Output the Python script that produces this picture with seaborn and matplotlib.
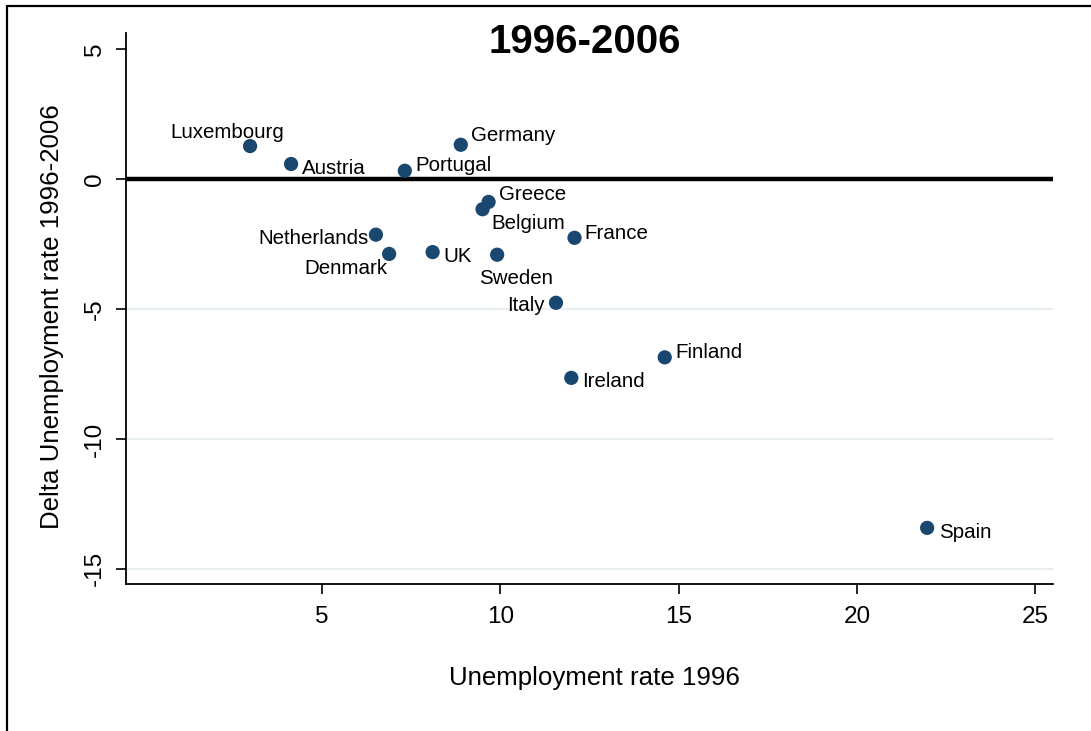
import matplotlib
matplotlib.use("Agg")
import matplotlib.pyplot as plt
from matplotlib.lines import Line2D
import seaborn as sns
import pandas as pd

# Unemployment in 1996 and its change over 1996-2006, by country
countries = ["Luxembourg", "Austria", "Portugal", "Germany", "Greece", "Belgium",
             "Netherlands", "Denmark", "UK", "Sweden", "France", "Italy",
             "Finland", "Ireland", "Spain"]
unemp_1996 = [2.98, 4.13, 7.32, 8.89, 9.67, 9.50, 6.51, 6.88, 8.10, 9.91,
              12.08, 11.56, 14.61, 11.99, 21.97]
delta_unemp = [1.27, 0.58, 0.32, 1.32, -0.88, -1.16, -2.14, -2.88, -2.81, -2.91,
               -2.26, -4.76, -6.86, -7.65, -13.42]

x_ticks = [5, 10, 15, 20, 25]
y_ticks = [5, 0, -5, -10, -15]
grid_levels = [-5, -10, -15]

# Where each marker label sits relative to its marker (pixels, alignment)
label_place = {
    "Luxembourg": (-23, 14, "center"),
    "Austria": (11, -5, "left"),
    "Portugal": (11, 5, "left"),
    "Germany": (10, 9, "left"),
    "Greece": (10, 7, "left"),
    "Belgium": (9, -14, "left"),
    "Netherlands": (-7, -4, "right"),
    "Denmark": (-2, -15, "right"),
    "UK": (11, -4, "left"),
    "Sweden": (19, -24, "center"),
    "France": (10, 4, "left"),
    "Italy": (-11, -3, "right"),
    "Finland": (11, 5, "left"),
    "Ireland": (11, -4, "left"),
    "Spain": (12, -5, "left"),
}

df = pd.DataFrame({"country": countries, "u1996": unemp_1996, "delta": delta_unemp})

sns.set_style("white")
plt.rcParams["font.family"] = ["Liberation Sans", "DejaVu Sans"]
plt.rcParams["text.color"] = "black"
plt.rcParams["axes.labelcolor"] = "black"
plt.rcParams["xtick.color"] = "black"
plt.rcParams["ytick.color"] = "black"

W, H = 1091, 731
fig = plt.figure(figsize=(W / 100, H / 100), dpi=100)
fig.patch.set_facecolor("white")

# plot region in pixel terms
left, right, top, bottom = 126, 1053, 33, 584
ax = fig.add_axes([left / W, 1 - bottom / H, (right - left) / W, (bottom - top) / H])

marker_color = "#1a476f"

for g in grid_levels:
    ax.axhline(g, color="#e8eef1", lw=1.6, zorder=0)
ax.axhline(0, color="black", lw=3.2, zorder=1)

sns.scatterplot(data=df, x="u1996", y="delta", color=marker_color, s=105,
                edgecolor="none", linewidth=0, ax=ax, zorder=3, legend=False)

for name, xv, yv in zip(countries, unemp_1996, delta_unemp):
    dx, dy, ha = label_place[name]
    ax.annotate(name, (xv, yv), xytext=(dx, dy), textcoords="offset pixels",
                ha=ha, va="center", fontsize=14.8, color="black", zorder=4)

ax.set_xlim(-0.5, 25.5)
ax.set_ylim(-15.58, 5.62)
ax.set_xticks(x_ticks)
ax.set_yticks(y_ticks)
ax.set_xticklabels([str(v) for v in x_ticks])
ax.set_yticklabels([str(v) for v in y_ticks], rotation=90, va="center")
ax.tick_params(axis="both", direction="out", length=7.5, width=1.2, color="black",
               labelsize=17.5, labelcolor="black", left=True, bottom=True)
ax.tick_params(axis="x", pad=8)
ax.tick_params(axis="y", pad=7)
for s in ["top", "right"]:
    ax.spines[s].set_visible(False)
for s in ["left", "bottom"]:
    ax.spines[s].set_color("black")
    ax.spines[s].set_linewidth(1.3)
ax.set_xlabel("")
ax.set_ylabel("")

fig.text(585 / W, 1 - 42 / H, "1996-2006", fontsize=29, fontweight="bold",
         ha="center", va="center", color="black")
fig.text(594 / W, 1 - 678 / H, "Unemployment rate 1996", fontsize=18.6,
         ha="center", va="center", color="black")
fig.text(52 / W, 1 - 317 / H, "Delta Unemployment rate 1996-2006", fontsize=18.6,
         rotation=90, ha="center", va="center", color="black")

# outer frame of the graph region
fig.add_artist(Line2D([7.3 / W, 7.3 / W], [0, 1 - 6.3 / H], transform=fig.transFigure,
                      color="black", lw=1.6))
fig.add_artist(Line2D([7.3 / W, 1], [1 - 6.3 / H, 1 - 6.3 / H], transform=fig.transFigure,
                      color="black", lw=1.6))

fig.savefig("out.png", dpi=100)
